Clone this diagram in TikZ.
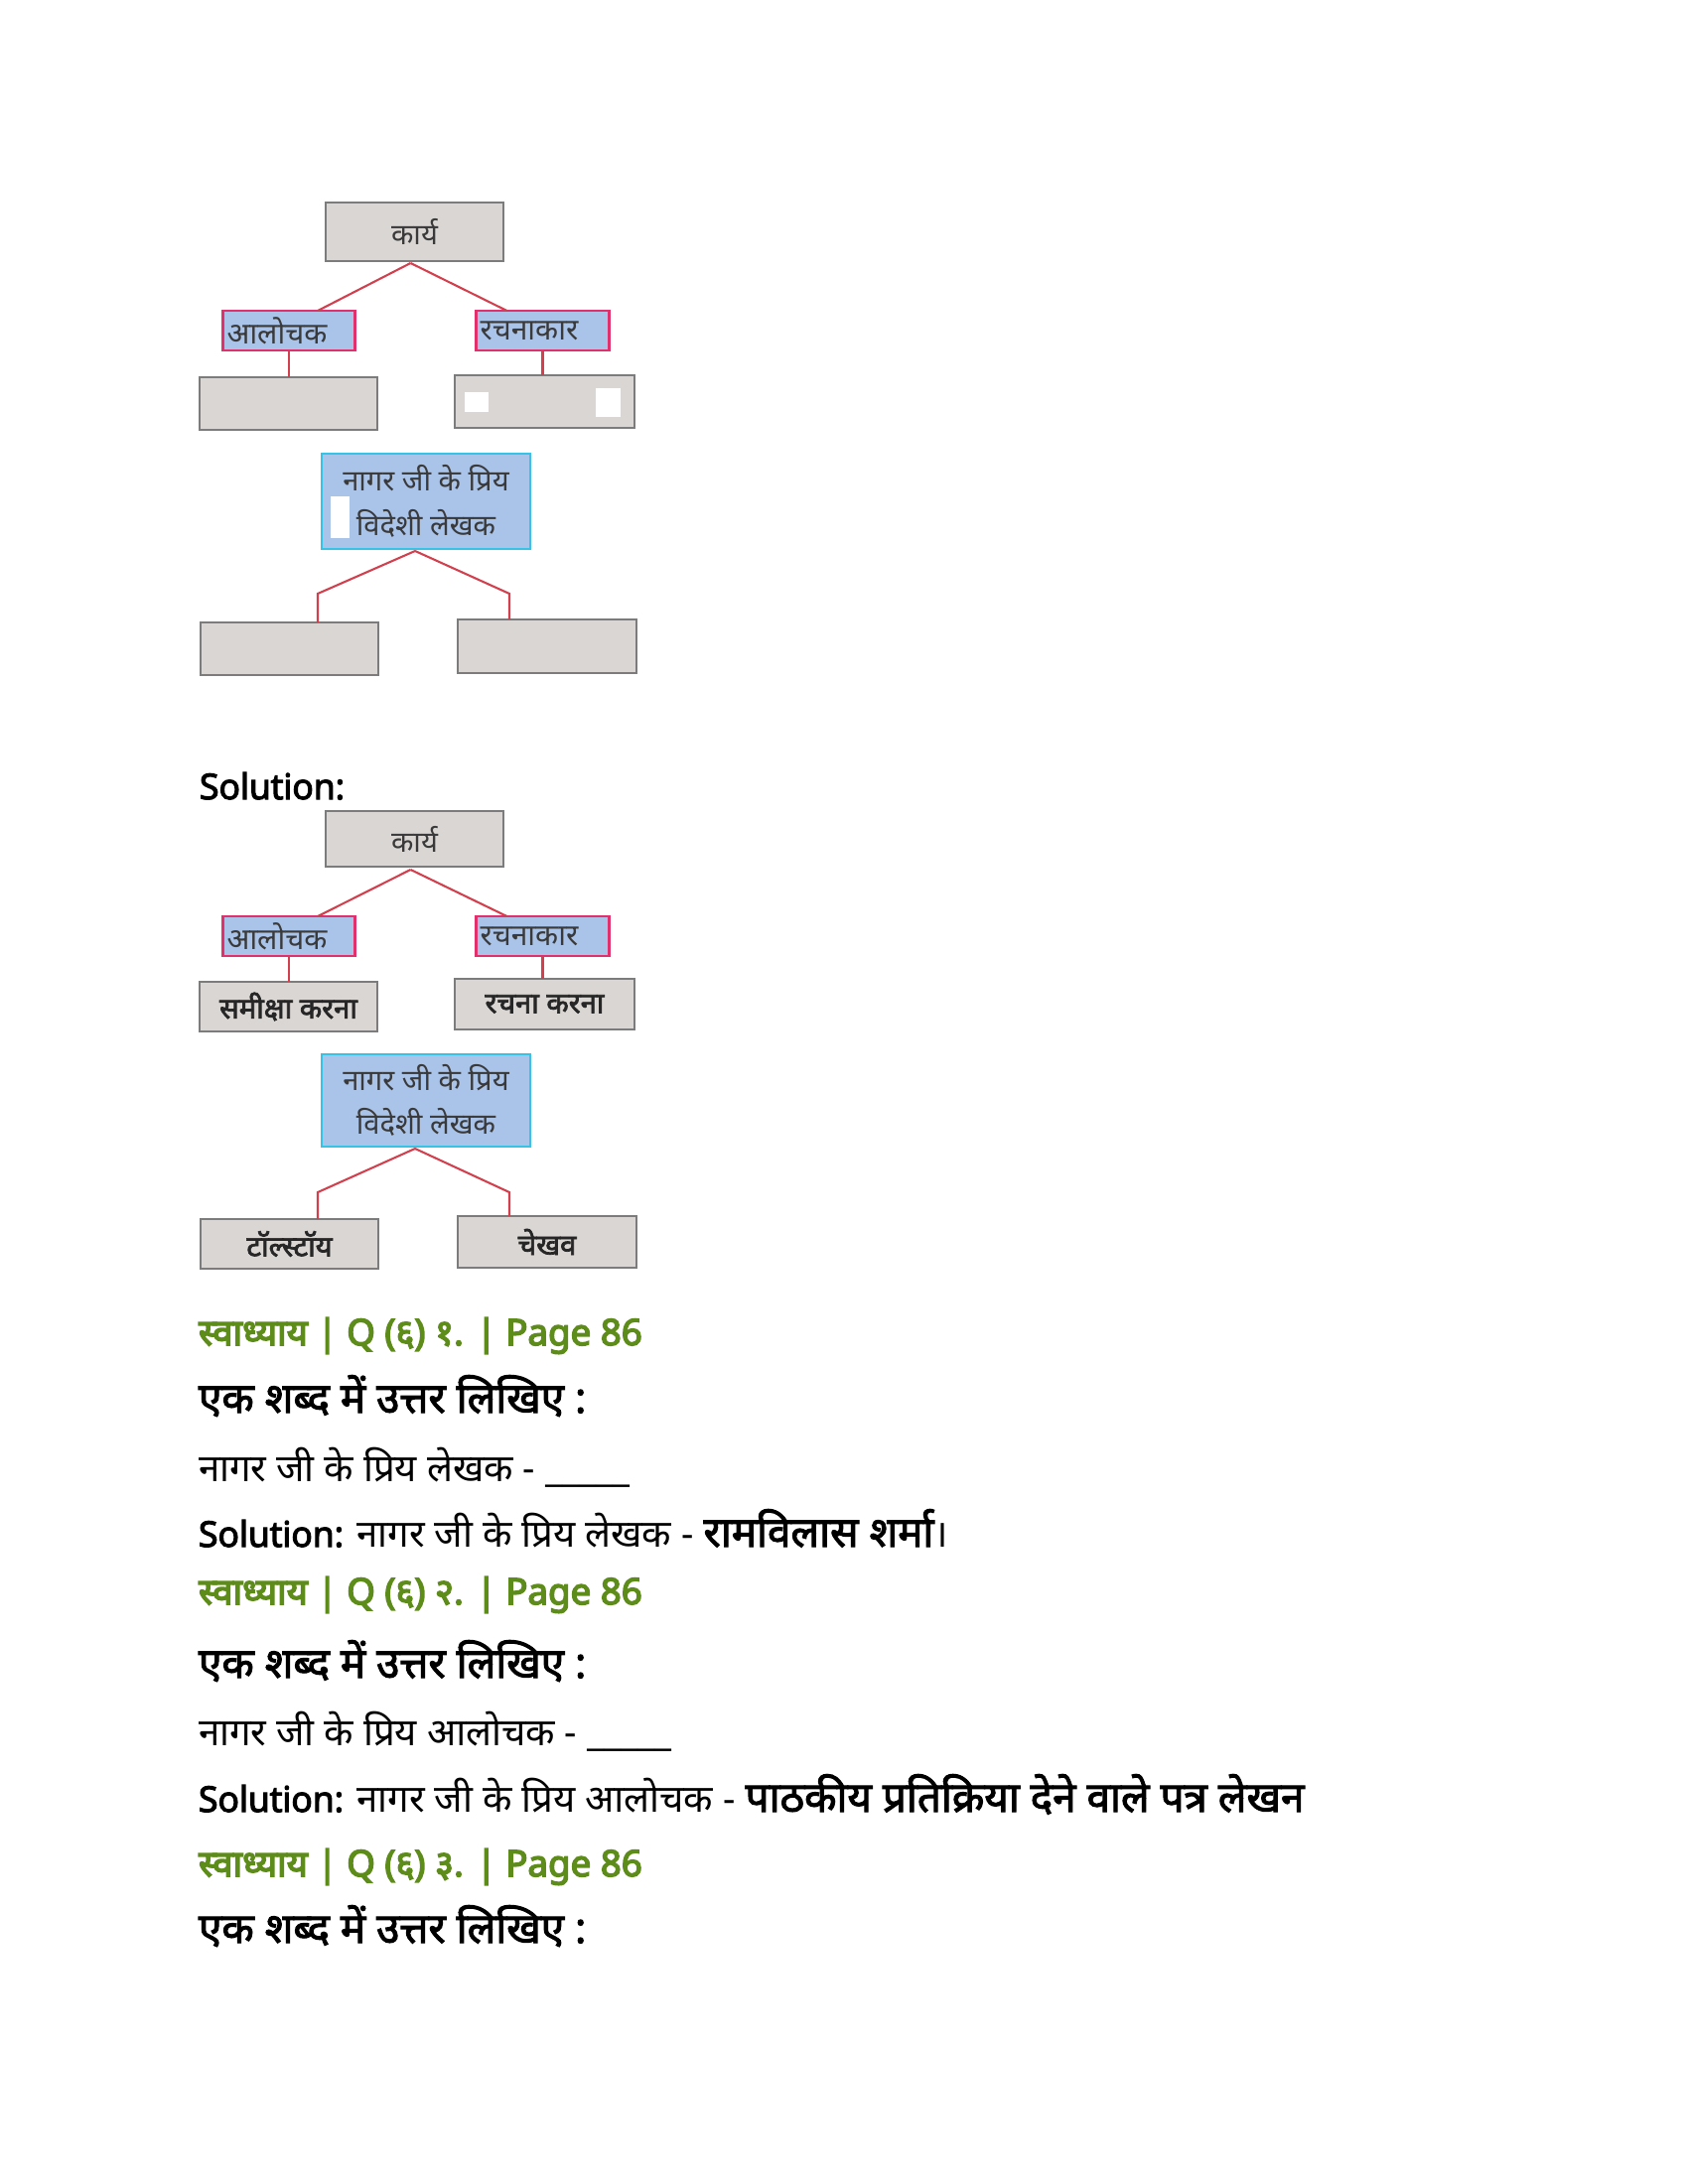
\documentclass[tikz,border=0pt]{standalone}
\usepackage{fontspec}
\setmainfont{Open Sans}
\newfontfamily\dev{Noto Sans}[Script=Devanagari]
\newfontfamily\devb{Noto Sans}[Script=Devanagari,FakeBold=2.4]
\newfontfamily\devhb{Noto Sans}[Script=Devanagari,FakeBold=4]
\newfontfamily\latb{Open Sans}[FakeBold=3.5]
\usetikzlibrary{calc}
\definecolor{boxgray}{HTML}{D9D6D3}
\definecolor{boxedge}{HTML}{7C7C7C}
\definecolor{bluefill}{HTML}{AAC3E8}
\definecolor{pinkedge}{HTML}{E2306C}
\definecolor{cyanedge}{HTML}{35C4E6}
\definecolor{linkred}{HTML}{D2404E}
\definecolor{headgreen}{HTML}{5E8C1A}
\definecolor{diagtext}{HTML}{3A3A3A}
\newcommand\solw{{\latb\fontsize{12.8}{15}\selectfont Solution:}}
\newcommand\ans[1]{{\devb\fontsize{15.2}{17}\selectfont #1}}
\begin{document}
\begin{tikzpicture}[x=0.36pt,y=-0.36pt,
  every node/.style={inner sep=0pt,outer sep=0pt},
  gbox/.style={draw=boxedge,fill=boxgray,line width=0.9pt,text=diagtext,
    font=\dev\fontsize{10.5}{12}\selectfont},
  ansbox/.style={gbox,font=\devb\fontsize{10.5}{12}\selectfont,text=black!85},
  lbox/.style={draw=pinkedge,fill=bluefill,line width=1pt,text=diagtext,
    font=\dev\fontsize{10.8}{12}\selectfont,align=left,inner xsep=1.5pt},
  nbox/.style={draw=cyanedge,fill=bluefill,line width=1pt,text=diagtext,
    font=\dev\fontsize{10.5}{16}\selectfont,align=center},
  link/.style={draw=linkred,line width=0.75pt},
  patch/.style={fill=white,draw=none},
  head/.style={anchor=base west,text=headgreen,font=\devhb\fontsize{13.2}{15}\selectfont},
  ques/.style={anchor=base west,font=\devb\fontsize{15.2}{17}\selectfont},
  body/.style={anchor=base west,font=\dev\fontsize{13.8}{16}\selectfont},
]
\useasboundingbox (0,0) rectangle (1700,2200);

% ---------- diagram 1 ----------
\node[gbox,minimum width={179*0.36pt},minimum height={59*0.36pt}] (k1) at (417.5,233.5) {कार्य};
\node[lbox,minimum width={132*0.36pt},minimum height={40*0.36pt},text width={125*0.36pt}] (a1) at (291,333) {आलोचक};
\node[lbox,minimum width={133*0.36pt},minimum height={40*0.36pt},text width={126*0.36pt}] (r1) at (546.5,333) {रचनाकार};
\node[gbox,minimum width={179*0.36pt},minimum height={53*0.36pt}] (ab1) at (290.5,406.5) {};
\node[gbox,minimum width={181*0.36pt},minimum height={53*0.36pt}] (rb1) at (548.5,404.5) {};
\node[nbox,minimum width={210*0.36pt},minimum height={96*0.36pt}] (n1) at (429,505) {नागर जी के प्रिय\\विदेशी लेखक};
\node[gbox,minimum width={179*0.36pt},minimum height={53*0.36pt}] (l1) at (291.5,653.5) {};
\node[gbox,minimum width={180*0.36pt},minimum height={54*0.36pt}] (c1) at (551,651) {};
\fill[patch] (468,395) rectangle (492,415);
\fill[patch] (600,391) rectangle (625,420);
\fill[patch] (333,500) rectangle (352,542);

\draw[link] ($(k1.south)+(-4,2)$) -- ($(a1.north)+(29,0)$);
\draw[link] ($(k1.south)+(-4,2)$) -- ($(r1.north)+(-36,0)$);
\draw[link] (a1.south) -- (a1.south |- ab1.north);
\draw[link] (r1.south) -- (r1.south |- rb1.north);
\coordinate (j1l) at ($(l1.north)+(28.5,-29)$);
\coordinate (j1r) at ($(c1.north)+(-38,-26)$);
\draw[link] ($(n1.south)+(-11,2)$) -- (j1l) -- (j1l |- l1.north);
\draw[link] ($(n1.south)+(-11,2)$) -- (j1r) -- (j1r |- c1.north);

% ---------- Solution heading ----------
\node[anchor=base west] (sol0) at (201,805) {\solw};

% ---------- diagram 2 ----------
\node[gbox,minimum width={179*0.36pt},minimum height={56*0.36pt}] (k2) at (417.5,845) {कार्य};
\node[lbox,minimum width={132*0.36pt},minimum height={40*0.36pt},text width={125*0.36pt}] (a2) at (291,943) {आलोचक};
\node[lbox,minimum width={133*0.36pt},minimum height={40*0.36pt},text width={126*0.36pt}] (r2) at (546.5,943) {रचनाकार};
\node[ansbox,minimum width={179*0.36pt},minimum height={50*0.36pt}] (s2) at (290.5,1014) {समीक्षा करना};
\node[ansbox,minimum width={181*0.36pt},minimum height={51*0.36pt}] (rk2) at (548.5,1011.5) {रचना करना};
\node[nbox,minimum width={210*0.36pt},minimum height={93*0.36pt}] (n2) at (429,1108.5) {नागर जी के प्रिय\\विदेशी लेखक};
\node[ansbox,minimum width={179*0.36pt},minimum height={50*0.36pt}] (t2) at (291.5,1253) {टॉल्स्टॉय};
\node[ansbox,minimum width={180*0.36pt},minimum height={52*0.36pt}] (ch2) at (551,1251) {चेखव};

\draw[link] ($(k2.south)+(-4,3)$) -- ($(a2.north)+(29,0)$);
\draw[link] ($(k2.south)+(-4,3)$) -- ($(r2.north)+(-36,0)$);
\draw[link] (a2.south) -- (a2.south |- s2.north);
\draw[link] (r2.south) -- (r2.south |- rk2.north);
\coordinate (j2l) at ($(t2.north)+(28.5,-27)$);
\coordinate (j2r) at ($(ch2.north)+(-38,-24)$);
\draw[link] ($(n2.south)+(-11,2)$) -- (j2l) -- (j2l |- t2.north);
\draw[link] ($(n2.south)+(-11,2)$) -- (j2r) -- (j2r |- ch2.north);

% ---------- text ----------
\node[head] (h1) at (200,1355) {स्वाध्याय | Q (६) १. | Page 86};
\node[ques] (q1) at (200,1423) {एक शब्द में उत्तर लिखिए :};
\node[body] (b1) at (200,1492) {नागर जी के प्रिय लेखक - \_\_\_\_\_};
\node[body] (s1) at (200,1558) {\solw{} नागर जी के प्रिय लेखक - \ans{रामविलास शर्मा}।};
\node[head] (h2) at (200,1616) {स्वाध्याय | Q (६) २. | Page 86};
\node[ques] (q2) at (200,1690) {एक शब्द में उत्तर लिखिए :};
\node[body] (b2) at (200,1758) {नागर जी के प्रिय आलोचक - \_\_\_\_\_};
\node[body] (s3) at (200,1825) {\solw{} नागर जी के प्रिय आलोचक - \ans{पाठकीय प्रतिक्रिया देने वाले पत्र लेखन}};
\node[head] (h3) at (200,1890) {स्वाध्याय | Q (६) ३. | Page 86};
\node[ques] (q3) at (200,1957) {एक शब्द में उत्तर लिखिए :};
\end{tikzpicture}
\end{document}
